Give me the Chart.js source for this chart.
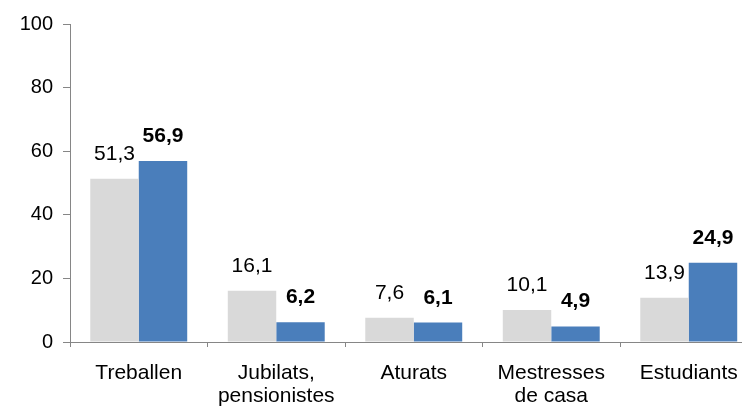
<!DOCTYPE html>
<html>
<head>
<meta charset="utf-8">
<script src="https://cdn.jsdelivr.net/npm/chart.js@4/dist/chart.umd.min.js"></script>
<style>
  html, body { margin: 0; padding: 0; background: #fff; overflow: hidden; }
  #wrap { width: 760px; height: 414px; }
</style>
</head>
<body>
<div id="wrap"><canvas id="chart" width="760" height="414"></canvas></div>
<script>
// Chart data
const categories = [
    'Treballen',
    ['Jubilats,', 'pensionistes'],
    'Aturats',
    ['Mestresses', 'de casa'],
    'Estudiants'
];
const seriesGray = [51.3, 16.1, 7.6, 10.1, 13.9];
const seriesBlue = [56.9, 6.2, 6.1, 4.9, 24.9];
const yTicks = [0, 20, 40, 60, 80, 100];

const FONT = "Arial, 'Liberation Sans', sans-serif";
const AXIS_COLOR = '#868686';

// Draw value labels above bars (comma decimals, blue series bold)
const valueLabels = {
    id: 'valueLabels',
    afterDatasetsDraw(chart) {
        const ctx = chart.ctx;
        ctx.save();
        ctx.textAlign = 'center';
        ctx.textBaseline = 'alphabetic';
        ctx.fillStyle = '#000';
        chart.data.datasets.forEach((ds, i) => {
            const meta = chart.getDatasetMeta(i);
            ctx.font = (i === 1 ? 'bold ' : '') + '21px ' + FONT;
            meta.data.forEach((bar, j) => {
                const txt = ds.data[j].toFixed(1).replace('.', ',');
                ctx.fillText(txt, bar.x, bar.y - 19);
            });
        });
        ctx.restore();
    }
};

const chart = new Chart(document.getElementById('chart'), {
    type: 'bar',
    data: {
        labels: categories,
        datasets: [
            {
                label: 'A',
                data: seriesGray,
                backgroundColor: '#d9d9d9',
                categoryPercentage: 0.705,
                barPercentage: 1.0
            },
            {
                label: 'B',
                data: seriesBlue,
                backgroundColor: '#4a7ebb',
                categoryPercentage: 0.705,
                barPercentage: 1.0
            }
        ]
    },
    options: {
        responsive: false,
        animation: false,
        layout: { padding: { top: 24, right: 2.5, bottom: 0, left: 0 } },
        plugins: {
            legend: { display: false },
            tooltip: { enabled: false }
        },
        scales: {
            x: {
                grid: {
                    drawOnChartArea: false,
                    drawTicks: true,
                    tickLength: 5,
                    color: AXIS_COLOR
                },
                border: { color: AXIS_COLOR, width: 1 },
                ticks: {
                    color: '#000',
                    padding: 15,
                    maxRotation: 0,
                    autoSkip: false,
                    font: { family: FONT, size: 21, lineHeight: 1.1 }
                },
                afterFit(scale) { scale.height = 72; }
            },
            y: {
                min: 0,
                max: 100,
                afterBuildTicks(scale) {
                    scale.ticks = yTicks.map(v => ({ value: v }));
                },
                grid: {
                    drawOnChartArea: false,
                    drawTicks: true,
                    tickLength: 7,
                    color: AXIS_COLOR
                },
                border: { color: AXIS_COLOR, width: 1 },
                ticks: {
                    color: '#000',
                    padding: 10,
                    font: { family: FONT, size: 20 }
                },
                afterFit(scale) { scale.width = 70; }
            }
        }
    },
    plugins: [valueLabels]
});
</script>
</body>
</html>
